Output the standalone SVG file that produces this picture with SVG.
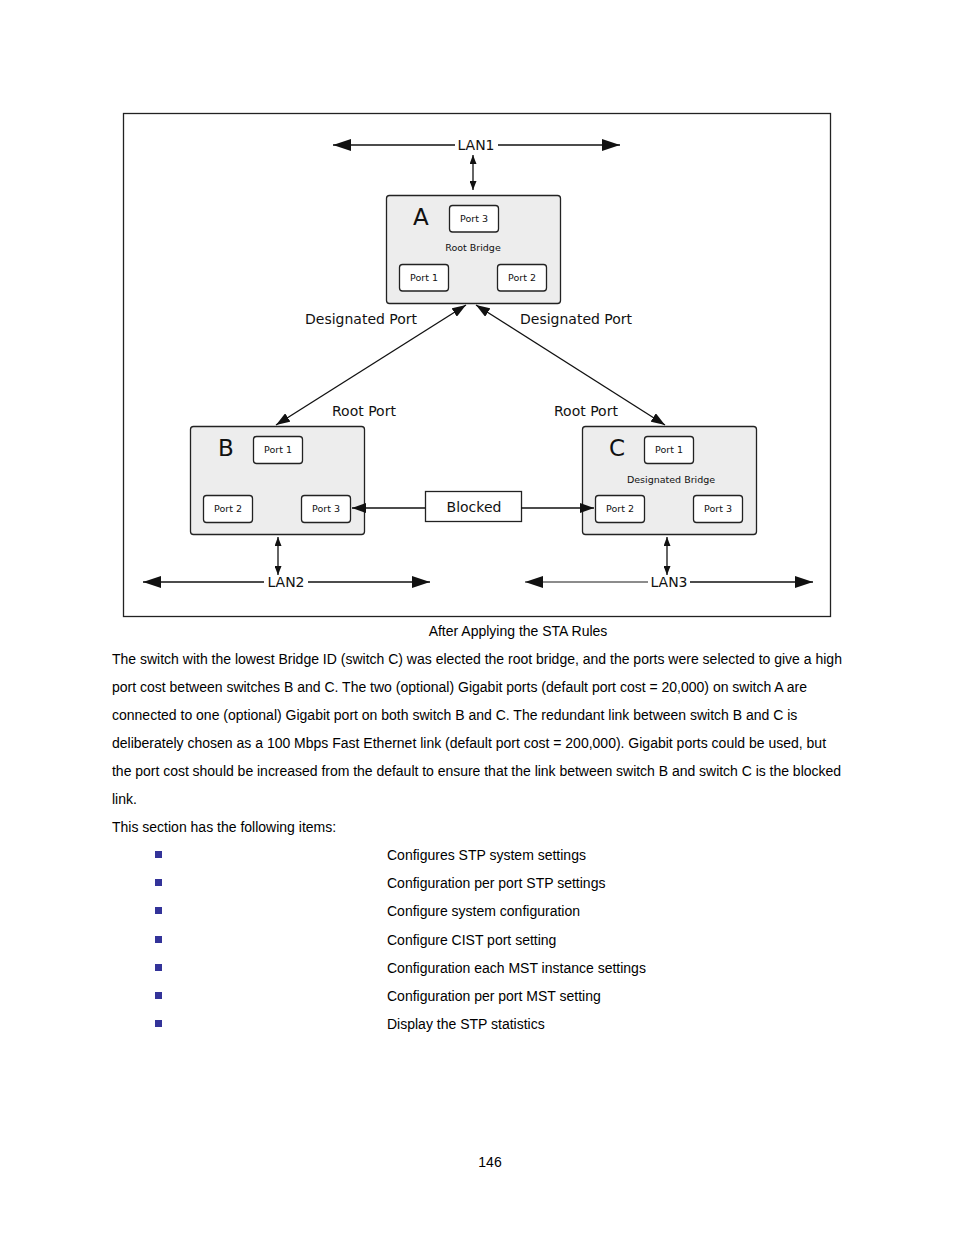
<svg xmlns="http://www.w3.org/2000/svg" width="954" height="1235" viewBox="0 0 954 1235">
<style>
.box{fill:#ededed;stroke:#222;stroke-width:1.3}
.port{fill:#fff;stroke:#222;stroke-width:1.3}
.pt{font-family:"DejaVu Sans",Verdana,sans-serif;font-size:9.5px;text-anchor:middle;fill:#111}
.big{font-family:"DejaVu Sans",Verdana,sans-serif;font-size:23px;fill:#111}
.lbl{font-family:"DejaVu Sans",Verdana,sans-serif;font-size:14px;fill:#111}
.lan{font-family:"DejaVu Sans",Verdana,sans-serif;font-size:14px;fill:#111;text-anchor:middle}
.ln{stroke:#111;stroke-width:1.3;fill:none}
.body{font-family:"Liberation Sans",Arial,sans-serif;font-size:14px;fill:#000}
</style>
<defs>
<marker id="big" viewBox="0 0 18 12" refX="18" refY="6" markerWidth="18" markerHeight="12" markerUnits="userSpaceOnUse" orient="auto-start-reverse"><path d="M0,0 L18,6 L0,12 Z" fill="#111"/></marker>
<marker id="sm" viewBox="0 0 9 7" refX="9" refY="3.5" markerWidth="9" markerHeight="7" markerUnits="userSpaceOnUse" orient="auto-start-reverse"><path d="M0,0 L9,3.5 L0,7 Z" fill="#111"/></marker>
<marker id="md" viewBox="0 0 14 10" refX="14" refY="5" markerWidth="14" markerHeight="10" markerUnits="userSpaceOnUse" orient="auto-start-reverse"><path d="M0,0 L14,5 L0,10 Z" fill="#111"/></marker>
</defs>
<rect x="0" y="0" width="954" height="1235" fill="#fff"/>
<rect x="123.5" y="113.5" width="707" height="503" fill="#fff" stroke="#222" stroke-width="1.3"/>

<g id="lan1"><text class="lan" x="476" y="150">LAN1</text></g>
<g id="lan2"><text class="lan" x="286" y="587">LAN2</text></g>
<g id="lan3"><text class="lan" x="669" y="587">LAN3</text></g>

<g id="switchA">
<rect class="box" x="386.5" y="195.5" width="174" height="108" rx="3"/>
<text class="big" x="413" y="225">A</text>
<rect class="port" x="449.5" y="205.5" width="49" height="26.5" rx="3"/>
<text class="pt" x="474" y="222">Port 3</text>
<text class="pt" x="473" y="251">Root Bridge</text>
<rect class="port" x="399.5" y="264.5" width="49" height="26.5" rx="3"/>
<text class="pt" x="424" y="281">Port 1</text>
<rect class="port" x="497.5" y="264.5" width="49" height="26.5" rx="3"/>
<text class="pt" x="522" y="281">Port 2</text>
</g>

<g id="labels">
<text class="lbl" x="305" y="324">Designated Port</text>
<text class="lbl" x="520" y="324">Designated Port</text>
<text class="lbl" x="332" y="416">Root Port</text>
<text class="lbl" x="554" y="416">Root Port</text>
</g>

<g id="switchB">
<rect class="box" x="190.5" y="426.5" width="174" height="108" rx="3"/>
<text class="big" x="218" y="456">B</text>
<rect class="port" x="253.5" y="436.5" width="49" height="27" rx="3"/>
<text class="pt" x="278" y="453">Port 1</text>
<rect class="port" x="203.5" y="495.5" width="49" height="27" rx="3"/>
<text class="pt" x="228" y="512">Port 2</text>
<rect class="port" x="301.5" y="495.5" width="49" height="27" rx="3"/>
<text class="pt" x="326" y="512">Port 3</text>
</g>

<g id="switchC">
<rect class="box" x="582.5" y="426.5" width="174" height="108" rx="3"/>
<text class="big" x="609" y="456">C</text>
<rect class="port" x="644.5" y="436.5" width="49" height="27" rx="3"/>
<text class="pt" x="669" y="453">Port 1</text>
<text class="pt" x="671" y="483">Designated Bridge</text>
<rect class="port" x="595.5" y="495.5" width="49" height="27" rx="3"/>
<text class="pt" x="620" y="512">Port 2</text>
<rect class="port" x="693.5" y="495.5" width="49" height="27" rx="3"/>
<text class="pt" x="718" y="512">Port 3</text>
</g>

<g id="blocked">
<rect x="425.5" y="491.5" width="96" height="30" fill="#fff" stroke="#222" stroke-width="1.3"/>
<text class="lan" x="474" y="512">Blocked</text>
</g>

<g id="connectors">
<line class="ln" x1="333" y1="145" x2="455" y2="145" marker-start="url(#big)"/>
<line class="ln" x1="498" y1="145" x2="620" y2="145" marker-end="url(#big)"/>
<line class="ln" x1="473" y1="155" x2="473" y2="190" marker-start="url(#sm)" marker-end="url(#sm)"/>
<line class="ln" x1="466" y1="305" x2="276" y2="425" marker-start="url(#md)" marker-end="url(#md)"/>
<line class="ln" x1="476" y1="305" x2="665" y2="425" marker-start="url(#md)" marker-end="url(#md)"/>
<line class="ln" x1="425" y1="508" x2="352" y2="508" marker-end="url(#md)"/>
<line class="ln" x1="521" y1="508" x2="594" y2="508" marker-end="url(#md)"/>
<line class="ln" x1="278" y1="537" x2="278" y2="575" marker-start="url(#sm)" marker-end="url(#sm)"/>
<line class="ln" x1="667" y1="537" x2="667" y2="575" marker-start="url(#sm)" marker-end="url(#sm)"/>
<line class="ln" x1="143" y1="582" x2="264" y2="582" marker-start="url(#big)"/>
<line class="ln" x1="308" y1="582" x2="430" y2="582" marker-end="url(#big)"/>
<line class="ln" x1="525" y1="582" x2="648" y2="582" marker-start="url(#big)" style="stroke:#666"/>
<line class="ln" x1="690" y1="582" x2="813" y2="582" marker-end="url(#big)"/>
</g>

<g id="text">
<text class="body" x="518" y="636" text-anchor="middle">After Applying the STA Rules</text>
<text class="body" x="112" y="664">The switch with the lowest Bridge ID (switch C) was elected the root bridge, and the ports were selected to give a high</text>
<text class="body" x="112" y="692">port cost between switches B and C. The two (optional) Gigabit ports (default port cost = 20,000) on switch A are</text>
<text class="body" x="112" y="720">connected to one (optional) Gigabit port on both switch B and C. The redundant link between switch B and C is</text>
<text class="body" x="112" y="748">deliberately chosen as a 100 Mbps Fast Ethernet link (default port cost = 200,000). Gigabit ports could be used, but</text>
<text class="body" x="112" y="776" textLength="729" lengthAdjust="spacing">the port cost should be increased from the default to ensure that the link between switch B and switch C is the blocked</text>
<text class="body" x="112" y="804">link.</text>
<text class="body" x="112" y="832">This section has the following items:</text>
<g fill="#333399">
<rect x="155" y="851" width="7" height="7"/>
<rect x="155" y="879" width="7" height="7"/>
<rect x="155" y="907" width="7" height="7"/>
<rect x="155" y="936" width="7" height="7"/>
<rect x="155" y="964" width="7" height="7"/>
<rect x="155" y="992" width="7" height="7"/>
<rect x="155" y="1020" width="7" height="7"/>
</g>
<text class="body" x="387" y="860">Configures STP system settings</text>
<text class="body" x="387" y="888">Configuration per port STP settings</text>
<text class="body" x="387" y="916">Configure system configuration</text>
<text class="body" x="387" y="945">Configure CIST port setting</text>
<text class="body" x="387" y="973">Configuration each MST instance settings</text>
<text class="body" x="387" y="1001">Configuration per port MST setting</text>
<text class="body" x="387" y="1029">Display the STP statistics</text>
<text class="body" x="490" y="1167" text-anchor="middle">146</text>
</g>
</svg>
